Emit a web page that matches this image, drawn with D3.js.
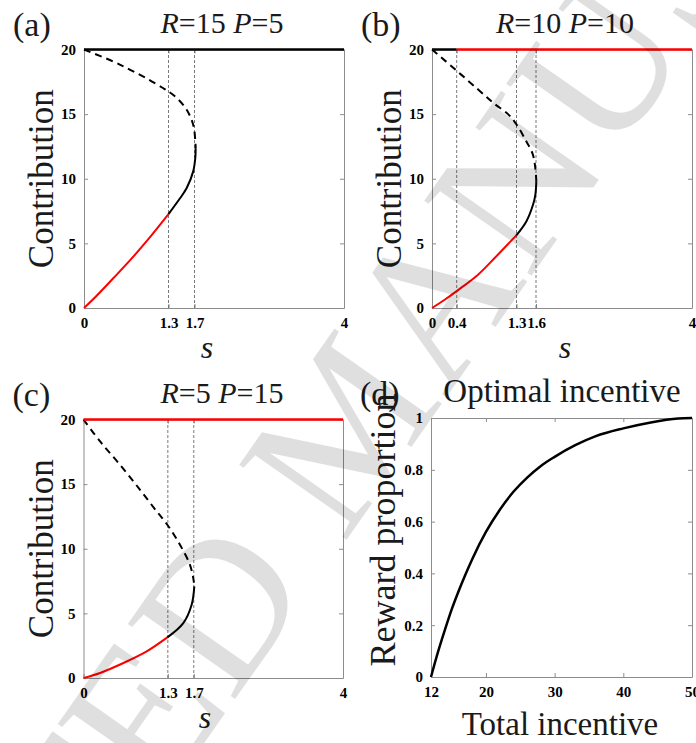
<!DOCTYPE html>
<html>
<head>
<meta charset="utf-8">
<script src="https://cdn.jsdelivr.net/npm/d3@7"></script>
<style>
  body { margin: 0; background: #fff; }
  svg { display: block; }
  .tick text { font-family: "Liberation Serif", "Times New Roman", serif; font-weight: bold; font-size: 15px; fill: #000; }
  .ax path, .ax line { stroke: #8c8c8c; stroke-width: 1; }
  .lbl { font-family: "Liberation Serif", "Times New Roman", serif; fill: #1a1a1a; }
</style>
</head>
<body>
<div id="chart"></div>
<script>
"use strict";

// contribution panels: x is s in [0,4], y is contribution in [0,20]
const sDomain = [0, 4];
const cDomain = [0, 20];
const cTicks = [0, 5, 10, 15, 20];

// (a) R=15 P=5
const aTicks = [0, 1.3, 1.7, 4];
const aTickLabels = ["0", "1.3", "1.7", "4"];
const aGuides = [1.3, 1.7];
const aTopBlack = [[0, 20], [4, 20]];
const aTopRed = [];
const aRed = [[0, 0], [0.195, 0.95], [0.45, 2.3], [0.71, 3.7], [0.96, 5.15], [1.3, 7.27]];
const aBlack = [[1.3, 7.27], [1.48, 8.51], [1.58, 9.28], [1.68, 10.57], [1.712, 11.6], [1.718, 12.37]];
const aDashed = [[0, 20], [0.45, 19.07], [0.71, 18.43], [0.96, 17.78], [1.2, 17.06], [1.3, 16.75],
  [1.43, 16.24], [1.58, 15.34], [1.68, 14.18], [1.713, 12.89], [1.718, 12.37]];

// (b) R=10 P=10
const bTicks = [0, 0.38, 1.3, 1.6, 4];
const bTickLabels = ["0", "0.4", "1.3", "1.6", "4"];
const bGuides = [0.38, 1.3, 1.6];
const bTopBlack = [[0, 20], [0.38, 20]];
const bTopRed = [[0.38, 20], [4, 20]];
const bRed = [[0, 0], [0.195, 0.64], [0.374, 1.29], [0.708, 2.58], [0.964, 3.87], [1.297, 5.62]];
const bBlack = [[1.297, 5.62], [1.451, 6.7], [1.554, 7.99], [1.59, 8.76], [1.605, 9.79]];
const bDashed = [[0, 20], [0.37, 18.4], [0.71, 16.9], [0.96, 15.8], [1.17, 15.0], [1.3, 14.2],
  [1.45, 12.9], [1.55, 11.9], [1.59, 10.8], [1.605, 9.79]];

// (c) R=5 P=15
const cTicksX = [0, 1.3, 1.7, 4];
const cTickLabels = ["0", "1.3", "1.7", "4"];
const cGuides = [1.3, 1.7];
const cTopBlack = [];
const cTopRed = [[0, 20], [4, 20]];
const cRed = [[0, 0], [0.256, 0.39], [0.615, 1.16], [0.974, 2.06], [1.292, 3.14]];
const cBlack = [[1.292, 3.14], [1.538, 4.25], [1.667, 5.67], [1.708, 7.09]];
const cDashed = [[0, 20], [0.256, 18.3], [0.564, 16.49], [0.872, 14.56], [1.128, 12.89], [1.292, 11.86],
  [1.487, 10.31], [1.641, 8.76], [1.692, 7.73], [1.708, 7.09]];

// (d) optimal incentive
const incDomain = [12, 50];
const incTicks = [12, 20, 30, 40, 50];
const propDomain = [0, 1];
const propTicks = [0, 0.2, 0.4, 0.6, 0.8, 1];
const propTickLabels = ["0", "0.2", "0.4", "0.6", "0.8", "1"];
const dCurve = [[12, 0], [13, 0.095], [14, 0.18], [15, 0.26], [16, 0.33], [17, 0.395], [18, 0.455],
  [20, 0.56], [22, 0.645], [24, 0.715], [26, 0.77], [28, 0.815], [30, 0.85], [33, 0.895],
  [36, 0.93], [40, 0.96], [44, 0.983], [48, 0.998], [50, 1]];

const svg = d3.select("#chart").append("svg")
  .attr("width", 696)
  .attr("height", 743);

function addText(x, y, str, size, opts = {}) {
  let t = svg.append("text")
    .attr("class", "lbl")
    .attr("x", x)
    .attr("y", y)
    .style("font-size", size + "px")
    .attr("text-anchor", opts.anchor || "start");
  if (opts.rotate) {
    t.attr("transform", `rotate(${opts.rotate},${x},${y})`);
  }
  if (opts.italic) t.style("font-style", "italic");
  if (str !== null) t.text(str);
  return t;
}

// title like "R=15 P=5" with italic letters
function addRPTitle(x, y, r, p) {
  let t = addText(x, y, null, 30, {anchor: "middle"});
  t.append("tspan").style("font-style", "italic").text("R");
  t.append("tspan").text("=" + r + " ");
  t.append("tspan").style("font-style", "italic").text("P");
  t.append("tspan").text("=" + p);
}

function drawFrame(g, x, y, xTicks, xLabels, yTicks, yLabels) {
  g.append("g").attr("class", "ax")
    .attr("transform", `translate(0,${y.range()[0]})`)
    .call(d3.axisBottom(x).tickValues(xTicks).tickSizeInner(-4).tickSizeOuter(0).tickPadding(9)
      .tickFormat((d, i) => xLabels[i]));
  g.append("g").attr("class", "ax")
    .attr("transform", `translate(0,${y.range()[1]})`)
    .call(d3.axisTop(x).tickValues(xTicks).tickSizeInner(-4).tickSizeOuter(0).tickFormat(""));
  g.append("g").attr("class", "ax")
    .attr("transform", `translate(${x.range()[0]},0)`)
    .call(d3.axisLeft(y).tickValues(yTicks).tickSizeInner(-4).tickSizeOuter(0).tickPadding(8)
      .tickFormat((d, i) => yLabels[i]));
  g.append("g").attr("class", "ax")
    .attr("transform", `translate(${x.range()[1]},0)`)
    .call(d3.axisRight(y).tickValues(yTicks).tickSizeInner(-4).tickSizeOuter(0).tickFormat(""));
}

function drawContribution(p) {
  let x = d3.scaleLinear().domain(sDomain).range([p.left, p.right]);
  let y = d3.scaleLinear().domain(cDomain).range([p.bottom, p.top]);
  let g = svg.append("g");

  drawFrame(g, x, y, p.ticks, p.tickLabels, cTicks, cTicks.map(String));

  let lineGen = d3.line()
    .x(d => x(d[0]))
    .y(d => y(d[1]))
    .curve(d3.curveCatmullRom.alpha(0.5));

  g.selectAll(".guide").data(p.guides).join("line")
    .attr("class", "guide")
    .attr("x1", d => x(d)).attr("x2", d => x(d))
    .attr("y1", y(0)).attr("y2", y(20))
    .attr("stroke", "#6a6a6a").attr("stroke-width", 0.9)
    .attr("stroke-dasharray", "3,2");

  g.append("path").attr("d", lineGen(p.dashed))
    .attr("fill", "none").attr("stroke", "#000").attr("stroke-width", 2)
    .attr("stroke-dasharray", "7,5");
  g.append("path").attr("d", lineGen(p.red))
    .attr("fill", "none").attr("stroke", "#f00").attr("stroke-width", 2);
  g.append("path").attr("d", lineGen(p.black))
    .attr("fill", "none").attr("stroke", "#000").attr("stroke-width", 2);
  if (p.topBlack.length) {
    g.append("path").attr("d", lineGen(p.topBlack))
      .attr("fill", "none").attr("stroke", "#000").attr("stroke-width", 2.5);
  }
  if (p.topRed.length) {
    g.append("path").attr("d", lineGen(p.topRed))
      .attr("fill", "none").attr("stroke", "#f00").attr("stroke-width", 2.5);
  }

  addText(p.left - 71, p.top - 14, "(" + p.tag + ")", 34);
  addRPTitle(p.titleX, p.top - 17, p.R, p.P);
  addText(p.sX, p.bottom + 50, "s", 32, {anchor: "middle", italic: true});
  addText(p.left - 31, (p.top + p.bottom) / 2, "Contribution", 35, {anchor: "middle", rotate: -90});
}

drawContribution({tag: "a", left: 84, right: 344, top: 49.5, bottom: 308, R: 15, P: 5, titleX: 222, sX: 207,
  ticks: aTicks, tickLabels: aTickLabels, guides: aGuides, topBlack: aTopBlack, topRed: aTopRed,
  red: aRed, black: aBlack, dashed: aDashed});
drawContribution({tag: "b", left: 432, right: 692, top: 49.5, bottom: 308, R: 10, P: 10, titleX: 565, sX: 565,
  ticks: bTicks, tickLabels: bTickLabels, guides: bGuides, topBlack: bTopBlack, topRed: bTopRed,
  red: bRed, black: bBlack, dashed: bDashed});
drawContribution({tag: "c", left: 83.5, right: 343, top: 419.5, bottom: 678, R: 5, P: 15, titleX: 222, sX: 205,
  ticks: cTicksX, tickLabels: cTickLabels, guides: cGuides, topBlack: cTopBlack, topRed: cTopRed,
  red: cRed, black: cBlack, dashed: cDashed});

// (d)
{
  let x = d3.scaleLinear().domain(incDomain).range([431, 692]);
  let y = d3.scaleLinear().domain(propDomain).range([677, 418]);
  let g = svg.append("g");
  drawFrame(g, x, y, incTicks, incTicks.map(String), propTicks, propTickLabels);
  g.append("path")
    .attr("d", d3.line().x(d => x(d[0])).y(d => y(d[1])).curve(d3.curveMonotoneX)(dCurve))
    .attr("fill", "none").attr("stroke", "#000").attr("stroke-width", 2.5);

  addText(360, 405, "(d)", 34);
  addText(562, 402, "Optimal incentive", 33, {anchor: "middle"});
  addText(560, 735, "Total incentive", 33, {anchor: "middle"});
  addText(395, 530, "Reward proportion", 36, {anchor: "middle", rotate: -90});
}

// watermark
svg.append("text")
  .attr("transform", "translate(345,420) rotate(-55)")
  .attr("text-anchor", "middle")
  .attr("dy", "0.35em")
  .style("font-family", "Liberation Serif, serif")
  .style("font-size", "200px")
  .attr("fill", "#000")
  .attr("opacity", 0.12)
  .text("ACCEPTED MANUSCRIPT");
</script>
</body>
</html>
